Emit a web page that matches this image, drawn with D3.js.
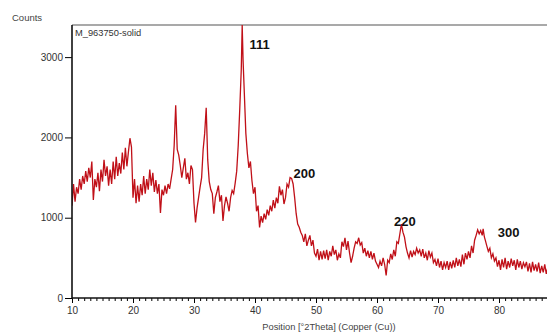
<!DOCTYPE html>
<html>
<head>
<meta charset="utf-8">
<title>xrd</title>
<script src="https://cdn.jsdelivr.net/npm/d3@7"></script>
<style>
  body { margin: 0; background: #fff; }
  text { font-family: "Liberation Sans", Arial, sans-serif; }
</style>
</head>
<body>
<script>
// measured pattern, [2theta, counts]
var pattern = [
 [10.00,1150],[10.25,1420],[10.50,1200],[10.75,1380],[11.00,1300],[11.25,1480],[11.50,1350],[11.75,1520],
 [12.00,1420],[12.25,1580],[12.50,1450],[12.75,1620],[13.00,1500],[13.25,1700],[13.50,1220],[13.75,1480],
 [14.00,1380],[14.25,1560],[14.50,1330],[14.75,1600],[15.00,1450],[15.25,1720],[15.50,1520],[15.75,1640],
 [16.00,1400],[16.25,1600],[16.50,1420],[16.75,1700],[17.00,1480],[17.25,1760],[17.50,1520],[17.75,1680],
 [18.00,1550],[18.25,1810],[18.50,1600],[18.75,1870],[19.00,1640],[19.25,1820],[19.50,1990],[19.75,1880],
 [20.00,1250],[20.25,1480],[20.50,1180],[20.75,1400],[21.00,1200],[21.25,1420],[21.50,1280],[21.75,1520],
 [22.00,1300],[22.25,1480],[22.50,1350],[22.75,1600],[23.00,1400],[23.25,1560],[23.50,1320],[23.75,1470],
 [24.00,1300],[24.25,1420],[24.50,1060],[24.75,1350],[25.00,1280],[25.25,1400],[25.50,1300],[25.75,1420],
 [26.00,1360],[26.25,1480],[26.50,1600],[26.75,1900],[27.00,2400],[27.25,1850],[27.50,1780],[27.75,1650],
 [28.00,1500],[28.25,1620],[28.50,1740],[28.75,1480],[29.00,1560],[29.25,1420],[29.50,1650],[29.75,1600],
 [30.00,1180],[30.25,940],[30.50,1120],[30.75,1250],[31.00,1380],[31.25,1500],[31.50,1850],[31.75,2050],
 [32.00,2370],[32.25,1720],[32.50,1450],[32.75,1350],[33.00,1300],[33.25,1050],[33.50,1250],[33.75,1320],
 [34.00,1400],[34.25,1200],[34.50,1280],[34.75,960],[35.00,1150],[35.25,1260],[35.50,1180],[35.75,1080],
 [36.00,1250],[36.25,1340],[36.50,1300],[36.75,1430],[37.00,1580],[37.25,1900],[37.50,2350],[37.75,2850],
 [37.90,3400],[38.05,2950],[38.25,2550],[38.50,2050],[38.75,1800],[39.00,1620],[39.25,1700],[39.50,1460],
 [39.75,1300],[40.00,1380],[40.25,1080],[40.50,1150],[40.75,880],[41.00,1020],[41.25,940],[41.50,1050],
 [41.75,980],[42.00,1100],[42.25,1030],[42.50,1150],[42.75,1080],[43.00,1220],[43.25,1120],[43.50,1250],
 [43.75,1180],[44.00,1390],[44.25,1280],[44.50,1350],[44.75,1170],[45.00,1250],[45.25,1420],[45.50,1380],
 [45.75,1500],[46.00,1490],[46.25,1420],[46.50,1250],[46.75,1050],[47.00,920],[47.25,880],[47.50,820],
 [47.75,780],[48.00,700],[48.25,800],[48.50,650],[48.75,720],[49.00,780],[49.25,650],[49.50,720],
 [49.75,560],[50.00,520],[50.25,610],[50.50,470],[50.75,580],[51.00,480],[51.25,590],[51.50,490],
 [51.75,600],[52.00,470],[52.25,580],[52.50,520],[52.75,650],[53.00,540],[53.25,600],[53.50,470],
 [53.75,550],[54.00,500],[54.25,700],[54.50,640],[54.75,750],[55.00,600],[55.25,710],[55.50,560],
 [55.75,440],[56.00,520],[56.25,620],[56.50,700],[56.75,680],[57.00,750],[57.25,660],[57.50,690],
 [57.75,560],[58.00,620],[58.25,520],[58.50,590],[58.75,500],[59.00,580],[59.25,480],[59.50,560],
 [59.75,460],[60.00,420],[60.25,380],[60.50,460],[60.75,400],[61.00,500],[61.25,420],[61.50,280],
 [61.75,470],[62.00,440],[62.25,550],[62.50,480],[62.75,600],[63.00,520],[63.25,700],[63.50,680],
 [63.75,800],[64.00,920],[64.25,820],[64.50,760],[64.75,640],[65.00,560],[65.25,500],[65.50,590],
 [65.75,510],[66.00,580],[66.25,540],[66.50,620],[66.75,560],[67.00,600],[67.25,520],[67.50,610],
 [67.75,500],[68.00,560],[68.25,470],[68.50,590],[68.75,510],[69.00,560],[69.25,440],[69.50,480],
 [69.75,400],[70.00,490],[70.25,380],[70.50,460],[70.75,350],[71.00,440],[71.25,380],[71.50,460],
 [71.75,350],[72.00,450],[72.25,370],[72.50,470],[72.75,380],[73.00,500],[73.25,400],[73.50,480],
 [73.75,390],[74.00,540],[74.25,420],[74.50,560],[74.75,480],[75.00,580],[75.25,500],[75.50,650],
 [75.75,560],[76.00,720],[76.25,780],[76.50,850],[76.75,800],[77.00,840],[77.25,780],[77.40,860],
 [77.60,760],[77.75,720],[78.00,650],[78.25,580],[78.50,620],[78.75,500],[79.00,550],[79.25,460],
 [79.50,500],[79.75,390],[80.00,470],[80.25,350],[80.50,480],[80.75,380],[81.00,500],[81.25,360],
 [81.50,460],[81.75,380],[82.00,490],[82.25,400],[82.50,470],[82.75,350],[83.00,480],[83.25,380],
 [83.50,460],[83.75,360],[84.00,440],[84.25,390],[84.50,450],[84.75,330],[85.00,430],[85.25,320],
 [85.50,450],[85.75,340],[86.00,420],[86.25,330],[86.50,440],[86.75,310],[87.00,400],[87.25,320],
 [87.50,420],[87.75,300],[88.00,380],[88.25,330]
];
var peakLabels = ["111", "200", "220", "300"];
var peakPos = [[39.1, 3100], [46.3, 1500], [62.8, 900], [79.8, 760]];
var yTicks = [0, 1000, 2000, 3000];
var xTicks = [10, 20, 30, 40, 50, 60, 70, 80];
var sampleName = "M_963750-solid";

var width = 547, height = 333;
var plotLeft = 72, plotTop = 25, plotBottom = 298;

var svg = d3.select("body").append("svg").attr("width", width).attr("height", height);

var x = d3.scaleLinear().domain([10, 90]).range([plotLeft, plotLeft + 488]);
var y = d3.scaleLinear().domain([0, 3400]).range([plotBottom, plotTop]);

svg.append("defs").append("clipPath").attr("id", "clip")
   .append("rect").attr("x", plotLeft).attr("y", plotTop - 1).attr("width", 488).attr("height", plotBottom - plotTop + 1);

// top frame
svg.append("line").attr("x1", plotLeft).attr("x2", width).attr("y1", plotTop).attr("y2", plotTop)
   .attr("stroke", "#555").attr("stroke-width", 1.2);

var line = d3.line().x(d => x(d[0])).y(d => y(d[1]));
svg.append("path").datum(pattern)
   .attr("d", line).attr("fill", "none")
   .attr("stroke", "#c01018").attr("stroke-width", 1.3)
   .attr("clip-path", "url(#clip)");

// x axis: minor ticks every degree
svg.append("g").attr("transform", "translate(0," + plotBottom + ")")
   .call(d3.axisBottom(x).tickValues(d3.range(10, 90, 1)).tickSize(3).tickFormat(""))
   .call(g => g.select(".domain").remove());
svg.append("g").attr("transform", "translate(0," + plotBottom + ")")
   .call(d3.axisBottom(x).tickValues(xTicks).tickSize(5).tickPadding(4))
   .call(g => g.select(".domain").remove())
   .call(g => g.selectAll("text").attr("font-size", 10).attr("fill", "#333"));
svg.append("line").attr("x1", plotLeft).attr("x2", width).attr("y1", plotBottom).attr("y2", plotBottom)
   .attr("stroke", "#111").attr("stroke-width", 1.6);

svg.append("g").attr("transform", "translate(" + plotLeft + ",0)")
   .call(d3.axisLeft(y).tickValues(yTicks).tickSize(7).tickPadding(2).tickFormat(d3.format("d")))
   .call(g => g.select(".domain").remove())
   .call(g => g.selectAll("text").attr("font-size", 10).attr("fill", "#333"));
svg.append("line").attr("x1", plotLeft).attr("x2", plotLeft).attr("y1", plotTop).attr("y2", plotBottom)
   .attr("stroke", "#111").attr("stroke-width", 1.6);

svg.append("text").attr("x", 12).attr("y", 21).text("Counts")
   .attr("font-size", 9.5).attr("fill", "#444");
svg.append("text").attr("x", 75).attr("y", 36).text(sampleName)
   .attr("font-size", 9.3).attr("fill", "#333");
svg.append("text").attr("x", 329).attr("y", 330).attr("text-anchor", "middle")
   .text("Position [°2Theta] (Copper (Cu))").attr("font-size", 9.3).attr("fill", "#444");

svg.selectAll(".peak").data(peakLabels).enter().append("text")
   .attr("x", (d, i) => x(peakPos[i][0]))
   .attr("y", (d, i) => y(peakPos[i][1]))
   .text(d => d)
   .attr("font-size", 13).attr("font-weight", "bold").attr("fill", "#111");
</script>
</body>
</html>
